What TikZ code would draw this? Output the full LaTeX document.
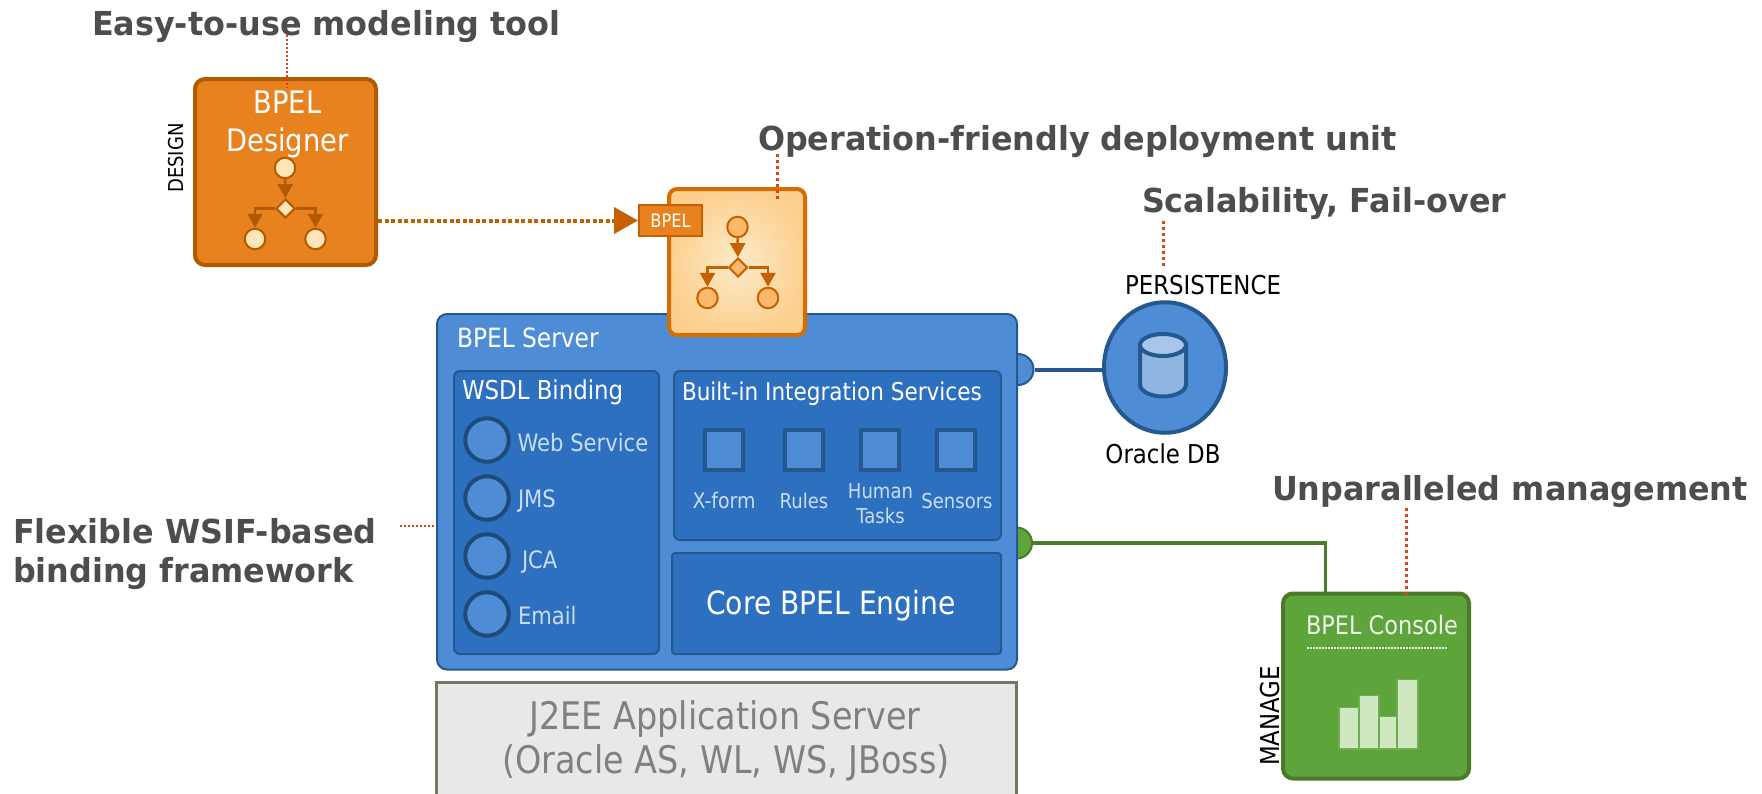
\documentclass[tikz,border=0pt]{standalone}
\usepackage{fontspec}
\setmainfont[FakeStretch=0.88]{DejaVu Sans}
\newfontfamily\hdfont[FakeStretch=0.965]{DejaVu Sans}
\usetikzlibrary{arrows.meta,shapes.geometric,shadings}
\definecolor{ored}{HTML}{D9441A}
\definecolor{ofill}{HTML}{E8821E}
\definecolor{odark}{HTML}{B35A00}
\definecolor{oedge}{HTML}{D96C00}
\definecolor{blueA}{HTML}{4E8DD6}
\definecolor{blueB}{HTML}{2E70C0}
\definecolor{blueE}{HTML}{25588F}
\definecolor{lblue}{HTML}{C9DCF3}
\definecolor{greenA}{HTML}{5DA43B}
\definecolor{greenE}{HTML}{4A7A2A}
\definecolor{barfill}{HTML}{D0E8C0}
\definecolor{baredge}{HTML}{6FAE55}
\definecolor{hdgray}{HTML}{4D4D4D}
\definecolor{flowA}{HTML}{FFE6B8}
\definecolor{flowB}{HTML}{FDB96A}
\definecolor{unitIn}{HTML}{FBEBC8}
\definecolor{unitOut}{HTML}{FDD090}
\definecolor{cylBody}{HTML}{8FB6E3}
\definecolor{cylTop}{HTML}{A8C6EA}
\definecolor{j2eeEdge}{HTML}{6E7A66}
\definecolor{flowE}{HTML}{C66000}
\tikzset{
  x=1pt,y=-1pt,
  txt/.style={inner sep=0pt,outer sep=0pt,font=\fontsize{#1}{#1}\selectfont},
  heading/.style={inner sep=0pt,outer sep=0pt,anchor=base west,text=hdgray,font=\hdfont\bfseries\fontsize{33}{33}\selectfont},
  panel/.style={draw=blueE,fill=blueB,line width=2pt,rounded corners=6pt,anchor=north west,inner sep=0pt},
  callthin/.style={draw=ored,line width=1.5pt,dash pattern=on 2pt off 2pt},
  callthick/.style={draw=ored,line width=3pt,dash pattern=on 3pt off 3pt},
  wcirc/.style={circle,draw=blueE!85!black,fill=blueA,line width=4pt,minimum size=43.5pt,inner sep=0pt},
  wsquare/.style={rectangle,draw=blueE,fill=blueA,line width=4pt,minimum width=38pt,minimum height=40pt,inner sep=0pt,anchor=north west},
  bar/.style={rectangle,draw=baredge,fill=barfill,line width=1.5pt,inner sep=0pt,anchor=south west},
  pics/flowicon/.style n args={2}{code={
    \tikzset{every node/.style={draw=#2,fill=#1,line width=2pt,inner sep=0pt}}
    \node[circle,minimum size=20.5pt] (-t) at (0,0) {};
    \node[diamond,aspect=1,minimum size=19pt] (-d) at (0.5,40.5) {};
    \node[circle,minimum size=20.5pt] (-l) at (-30,71) {};
    \node[circle,minimum size=20.5pt] (-r) at (30.5,71) {};
    \draw[draw=#2,line width=2.5pt,-{Triangle[length=14pt,width=15pt]}] (-t) -- (-d);
    \draw[draw=#2,line width=2.5pt,-{Triangle[length=14pt,width=15pt]}] (-d.west) -| (-l.north);
    \draw[draw=#2,line width=2.5pt,-{Triangle[length=14pt,width=15pt]}] (-d.east) -| (-r.north);
  }},
}
\begin{document}
\begin{tikzpicture}
\clip (0,0) rectangle (1762,793);
\fill[white] (0,0) rectangle (1762,793);

% J2EE base
\node[rectangle,draw=j2eeEdge,fill=black!9,line width=2.5pt,anchor=north west,minimum width=580pt,minimum height=130pt,inner sep=0pt] (j2ee) at (435,681) {};
\node[txt=38,anchor=base,text=black!50] (j2eeA) at (725,729) {J2EE Application Server};
\node[txt=38,anchor=base,text=black!50] (j2eeB) at (726,773) {(Oracle AS, WL, WS, JBoss)};

% ports (behind the server)
\node[circle,draw=blueE,fill=blueA,line width=2pt,minimum size=31pt,inner sep=0pt] (pblue) at (1018,369.5) {};
\node[circle,draw=greenE,fill=greenA,line width=2pt,minimum size=31pt,inner sep=0pt] (pgreen) at (1016.5,543) {};

% server
\node[rectangle,draw=blueE,fill=blueA,line width=2pt,rounded corners=10pt,anchor=north west,minimum width=580pt,minimum height=355.5pt,inner sep=0pt] (server) at (436,313) {};
\node[txt=26.5,anchor=base west,text=white] (serverT) at (457,347) {BPEL Server};

% WSDL
\node[panel,minimum width=205pt,minimum height=283pt] (wsdl) at (453,370) {};
\node[txt=26,anchor=base west,text=white] (wsdlT) at (462,399) {WSDL Binding};
\node[wcirc] (c1) at (487,440) {};
\node[wcirc] (c2) at (487,498) {};
\node[wcirc] (c3) at (487,556) {};
\node[wcirc] (c4) at (487,614) {};
\node[txt=24,anchor=base west,text=lblue] (l1) at (517.5,451.5) {Web Service};
\node[txt=24,anchor=base west,text=lblue] (l2) at (518,507) {JMS};
\node[txt=24,anchor=base west,text=lblue] (l3) at (522,568) {JCA};
\node[txt=24,anchor=base west,text=lblue] (l4) at (518,624) {Email};

% services
\node[panel,minimum width=327pt,minimum height=169pt] (svc) at (673,370) {};
\node[txt=24.5,anchor=base west,text=white] (svcT) at (682,400) {Built-in Integration Services};
\node[wsquare] (s1) at (703,428) {};
\node[wsquare] (s2) at (783,428) {};
\node[wsquare] (s3) at (859,428) {};
\node[wsquare] (s4) at (935,428) {};
\node[txt=21.5,anchor=base,text=lblue] (sl1) at (724,508) {X-form};
\node[txt=20.5,anchor=base,text=lblue] (sl2) at (804,508) {Rules};
\node[txt=20.5,anchor=base,text=lblue] (sl3a) at (880.5,498) {Human};
\node[txt=20.5,anchor=base,text=lblue] (sl3b) at (880.5,523) {Tasks};
\node[txt=20.5,anchor=base,text=lblue] (sl4) at (957,508) {Sensors};

% core
\node[panel,rounded corners=3pt,minimum width=329pt,minimum height=101pt] (core) at (671,552) {};
\node[txt=32,anchor=base,text=white] (coreT) at (831,614) {Core BPEL Engine};

% designer
\node[rectangle,draw=odark,fill=ofill,line width=4pt,rounded corners=10pt,anchor=north west,minimum width=181pt,minimum height=186pt,inner sep=0pt] (designer) at (193,77) {};
\node[txt=31,anchor=base,text=white] (desA) at (287.5,113.5) {BPEL};
\node[txt=31,anchor=base,text=white] (desB) at (287.5,151) {Designer};
\pic (fa) at (285,168) {flowicon={flowA}{odark}};

% deployment unit
\node[rectangle,draw=oedge,line width=4pt,rounded corners=8pt,anchor=north west,minimum width=136pt,minimum height=146pt,inner sep=0pt,inner color=unitIn,outer color=unitOut] (unit) at (667,187) {};
\pic (fb) at (737.5,227) {flowicon={flowB}{flowE}};
\node[rectangle,draw=flowE,fill=ofill,line width=2pt,anchor=north west,minimum width=63pt,minimum height=31pt,inner sep=0pt] (tag) at (638,204) {};
\node[txt=18.5,anchor=center,text=white] (tagT) at (tag.center) {BPEL};
\draw[draw=flowE,line width=4pt,dash pattern=on 4pt off 2.5pt,-{Triangle[length=24pt,width=26pt]}] (designer.east |- tag.west) -- (tag.west);

% DB
\node[ellipse,draw=blueE,fill=blueA,line width=4pt,minimum width=122pt,minimum height=130.5pt,inner sep=0pt] (db) at (1165,367.5) {};
\draw[draw=blueE,line width=4pt] (pblue.east) -- (pblue.east -| db.west);
\coordinate (cyl) at (1163,345);
\draw[draw=blueE,fill=cylBody,line width=4pt] (1140,345) -- (1140,384.5) arc[start angle=180,end angle=0,x radius=23,y radius=12] -- (1186,345) -- cycle;
\draw[draw=blueE,fill=cylTop,line width=4pt] (cyl) ellipse[x radius=23,y radius=11];
\node[txt=26,anchor=base,text=black] (persist) at (1203,294) {PERSISTENCE};
\node[txt=26,anchor=base,text=black] (oradb) at (1163,463) {Oracle DB};

% console
\node[rectangle,draw=greenE,fill=greenA,line width=4pt,rounded corners=10pt,anchor=north west,minimum width=186pt,minimum height=185pt,inner sep=0pt] (console) at (1281,591.5) {};
\coordinate (gdrop) at (1325.5,591.5);
\draw[draw=greenE,line width=3.5pt,line join=miter] (pgreen.east) -| (gdrop);
\node[txt=25.5,anchor=base west,text=white!90!greenA] (consT) at (1306,634) {BPEL Console};
\coordinate (dA) at (1307,648);
\coordinate (dB) at (1448,648);
\draw[draw=white!90!greenA,line width=1.5pt,dash pattern=on 1.5pt off 1.5pt] (dA) -- (dB);
\node[bar,minimum width=20pt,minimum height=41.5pt] (b1) at (1338,749.5) {};
\node[bar,minimum width=20pt,minimum height=53.5pt] (b2) at (1358,749.5) {};
\node[bar,minimum width=18pt,minimum height=32.5pt] (b3) at (1378,749.5) {};
\node[bar,minimum width=21pt,minimum height=69.5pt] (b4) at (1396,749.5) {};

% side labels
\node[txt=20.5,rotate=90,text=black] (design) at (176,158) {DESIGN};
\node[txt=26,rotate=90,text=black] (manage) at (1270,716) {MANAGE};

% headings
\node[heading] (h1) at (92,35) {Easy-to-use modeling tool};
\node[heading] (h2) at (758,150) {Operation-friendly deployment unit};
\node[heading] (h3) at (1142,212) {Scalability, Fail-over};
\node[heading] (h4) at (1272,500) {Unparalleled management};
\node[heading] (h5a) at (13,543) {Flexible WSIF-based};
\node[heading] (h5b) at (13,582) {binding framework};

% callouts
\coordinate (k1a) at (287,35); \coordinate (k1b) at (287,88);
\draw[callthin] (k1a) -- (k1b);
\coordinate (k2a) at (777,154); \coordinate (k2b) at (777,202);
\draw[callthick] (k2a) -- (k2b);
\coordinate (k3a) at (1163.5,221); \coordinate (k3b) at (1163.5,268);
\draw[callthick] (k3a) -- (k3b);
\coordinate (k4a) at (1406,508); \coordinate (k4b) at (1406,597);
\draw[callthick] (k4a) -- (k4b);
\coordinate (k5a) at (400,526);
\draw[draw=ored,line width=2.5pt,dash pattern=on 2pt off 2pt] (k5a) -- (k5a -| server.west);
\end{tikzpicture}
\end{document}
